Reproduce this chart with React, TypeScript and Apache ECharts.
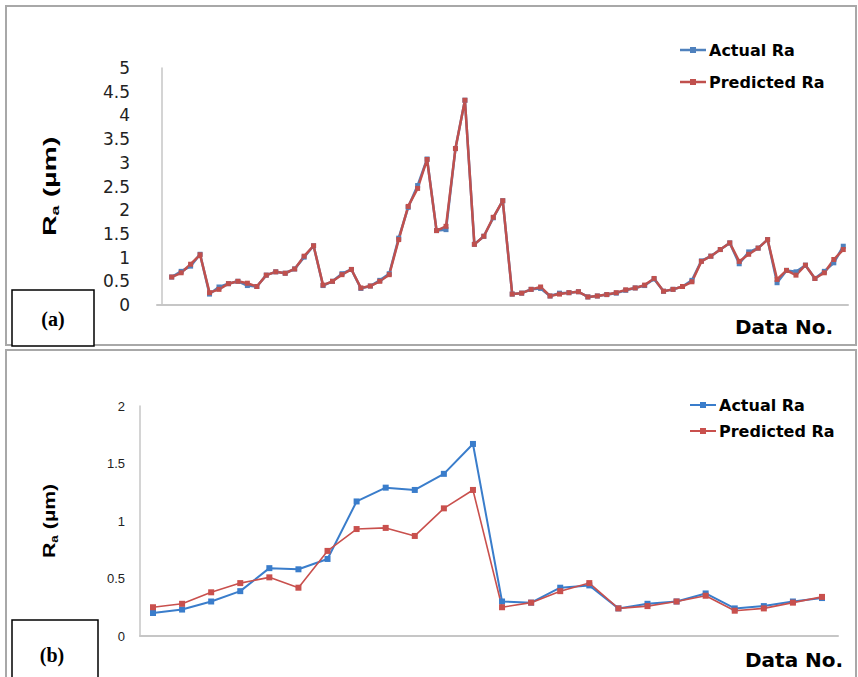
import React, { useEffect, useRef } from "react";
import * as echarts from "echarts";

// Panel (a): 72 data points
const aActual = [
  0.59, 0.71, 0.82, 1.07, 0.23, 0.38, 0.45, 0.5, 0.41, 0.39,
  0.63, 0.7, 0.67, 0.76, 1.01, 1.25, 0.41, 0.5, 0.66, 0.75,
  0.35, 0.4, 0.52, 0.66, 1.41, 2.06, 2.52, 3.08, 1.57, 1.59,
  3.3, 4.32, 1.28, 1.45, 1.84, 2.2, 0.23, 0.25, 0.33, 0.35,
  0.19, 0.25, 0.26, 0.28, 0.17, 0.19, 0.22, 0.25, 0.31, 0.36,
  0.41, 0.55, 0.29, 0.33, 0.39, 0.52, 0.93, 1.03, 1.17, 1.31,
  0.87, 1.12, 1.2, 1.38, 0.47, 0.73, 0.7, 0.84, 0.56, 0.71,
  0.89, 1.24,
];
const aPredicted = [
  0.59, 0.68, 0.86, 1.06, 0.26, 0.33, 0.45, 0.5, 0.46, 0.39,
  0.63, 0.7, 0.67, 0.76, 1.03, 1.25, 0.42, 0.5, 0.64, 0.75,
  0.36, 0.4, 0.5, 0.64, 1.38, 2.08, 2.46, 3.07, 1.57, 1.66,
  3.3, 4.32, 1.28, 1.45, 1.85, 2.2, 0.23, 0.25, 0.33, 0.38,
  0.19, 0.23, 0.26, 0.28, 0.17, 0.19, 0.22, 0.26, 0.32, 0.36,
  0.42, 0.56, 0.29, 0.33, 0.39, 0.49, 0.92, 1.03, 1.17, 1.31,
  0.92, 1.07, 1.2, 1.38, 0.54, 0.73, 0.63, 0.84, 0.56, 0.68,
  0.96, 1.17,
];

// Panel (b): 24 data points
const bActual = [
  0.2, 0.23, 0.3, 0.39, 0.59, 0.58, 0.67, 1.17, 1.29, 1.27, 1.41, 1.67,
  0.3, 0.29, 0.42, 0.44, 0.24, 0.28, 0.3, 0.37, 0.24, 0.26, 0.3, 0.33,
];
const bPredicted = [
  0.25, 0.28, 0.38, 0.46, 0.51, 0.42, 0.74, 0.93, 0.94, 0.87, 1.11, 1.27,
  0.25, 0.29, 0.39, 0.46, 0.24, 0.26, 0.3, 0.35, 0.22, 0.24, 0.29, 0.34,
];

const seriesNames = ["Actual Ra", "Predicted Ra"];
const xTitle = "Data No.";

const BLUE_A = "#4F81BD";
const RED_A = "#C0504D";
const BLUE_B = "#3A7DCB";
const RED_B = "#C9504D";

export default function App() {
  const ref = useRef<HTMLDivElement>(null);

  useEffect(() => {
    document.body.style.margin = "0";
    const chart = echarts.init(ref.current!, null, { renderer: "svg" });
    const pairs = (arr: number[]) => arr.map((v, i) => [i + 1, v]);

    const axisLineStyle = { color: "#c6c6c6", width: 2 };

    const legendItem = (x: number, y: number, color: string, label: string, lw: number) => [
      { type: "line", shape: { x1: x, y1: y, x2: x + 26, y2: y }, style: { stroke: color, lineWidth: lw }, z: 10 },
      { type: "rect", shape: { x: x + 10, y: y - 3, width: 6, height: 6 }, style: { fill: color }, z: 10 },
      {
        type: "text",
        x: x + 29,
        y: y,
        style: {
          text: label,
          fontFamily: "DejaVu Sans",
          fontWeight: "bold",
          fontSize: 16,
          fill: "#000",
          verticalAlign: "middle",
          align: "left",
        },
        z: 10,
      },
    ];

    const yTitle = (x: number, y: number, fs: number, scale: number) => ({
      type: "group",
      x,
      y,
      rotation: Math.PI / 2,
      scaleX: scale,
      children: [
        { type: "text", x: 0, y: 0, style: { text: "R", fontFamily: "Liberation Sans", fontWeight: "bold", fontSize: fs, fill: "#000", verticalAlign: "middle", align: "left" } },
        { type: "text", x: fs * 0.72, y: fs * 0.3, style: { text: "a", fontFamily: "Liberation Sans", fontWeight: "bold", fontSize: fs * 0.62, fill: "#000", verticalAlign: "middle", align: "left" } },
        { type: "text", x: fs * 0.72 + fs * 0.36, y: 0, style: { text: " (µm)", fontFamily: "Liberation Sans", fontWeight: "bold", fontSize: fs, fill: "#000", verticalAlign: "middle", align: "left" } },
      ],
    });

    const option: any = {
      animation: false,
      backgroundColor: "#ffffff",
      grid: [
        { left: 157, top: 68, width: 691, height: 237 },
        { left: 140, top: 406, width: 698, height: 230 },
      ],
      xAxis: [
        {
          gridIndex: 0, type: "value", min: -0.554, max: 72.5,
          axisLine: { show: true, lineStyle: axisLineStyle },
          axisTick: { show: false }, axisLabel: { show: false }, splitLine: { show: false },
        },
        {
          gridIndex: 1, type: "value", min: 0.553, max: 24.55,
          axisLine: { show: true, lineStyle: axisLineStyle },
          axisTick: { show: false }, axisLabel: { show: false }, splitLine: { show: false },
        },
      ],
      yAxis: [
        {
          gridIndex: 0, type: "value", min: 0, max: 5, interval: 0.5,
          axisLine: { show: true, lineStyle: { color: "#c6c6c6", width: 1.5 } },
          axisTick: { show: false }, splitLine: { show: false },
          axisLabel: { fontFamily: "DejaVu Sans", fontSize: 17, color: "#222", margin: 27 },
        },
        {
          gridIndex: 1, type: "value", min: 0, max: 2, interval: 0.5,
          axisLine: { show: true, lineStyle: { color: "#c6c6c6", width: 1.5 } },
          axisTick: { show: false }, splitLine: { show: false },
          axisLabel: { fontFamily: "Liberation Sans", fontSize: 13, color: "#222", margin: 15 },
        },
      ],
      series: [
        {
          name: seriesNames[0], type: "line", xAxisIndex: 0, yAxisIndex: 0, data: pairs(aActual),
          symbol: "rect", symbolSize: 5, lineStyle: { color: BLUE_A, width: 2.5 }, itemStyle: { color: BLUE_A },
        },
        {
          name: seriesNames[1], type: "line", xAxisIndex: 0, yAxisIndex: 0, data: pairs(aPredicted),
          symbol: "rect", symbolSize: 5, lineStyle: { color: RED_A, width: 2.5 }, itemStyle: { color: RED_A },
        },
        {
          name: seriesNames[0], type: "line", xAxisIndex: 1, yAxisIndex: 1, data: pairs(bActual),
          symbol: "rect", symbolSize: 6, lineStyle: { color: BLUE_B, width: 2 }, itemStyle: { color: BLUE_B },
        },
        {
          name: seriesNames[1], type: "line", xAxisIndex: 1, yAxisIndex: 1, data: pairs(bPredicted),
          symbol: "rect", symbolSize: 6, lineStyle: { color: RED_B, width: 1.6 }, itemStyle: { color: RED_B },
        },
      ],
      graphic: [
        { type: "rect", shape: { x: 6, y: 6, width: 850, height: 339 }, style: { fill: "none", stroke: "#a8a8a8", lineWidth: 2 }, z: 1 },
        { type: "rect", shape: { x: 6, y: 350, width: 850, height: 332 }, style: { fill: "none", stroke: "#a8a8a8", lineWidth: 2 }, z: 1 },
        ...legendItem(680, 50, BLUE_A, seriesNames[0], 2.5),
        ...legendItem(680, 82, RED_A, seriesNames[1], 2.5),
        ...legendItem(690, 405, BLUE_B, seriesNames[0], 2),
        ...legendItem(690, 431, RED_B, seriesNames[1], 2),
        { type: "text", x: 735, y: 327, style: { text: xTitle, fontFamily: "DejaVu Sans", fontWeight: "bold", fontSize: 20, fill: "#000", verticalAlign: "middle" }, z: 10 },
        { type: "text", x: 745, y: 660, style: { text: xTitle, fontFamily: "DejaVu Sans", fontWeight: "bold", fontSize: 20, fill: "#000", verticalAlign: "middle" }, z: 10 },
        { type: "rect", shape: { x: 12, y: 290, width: 82, height: 56 }, style: { fill: "#fff", stroke: "#000", lineWidth: 1.5 }, z: 10 },
        { type: "text", x: 53, y: 319, style: { text: "(a)", fontFamily: "Liberation Serif", fontWeight: "bold", fontSize: 20, fill: "#000", align: "center", verticalAlign: "middle" }, z: 11 },
        { type: "rect", shape: { x: 12, y: 620, width: 86, height: 62 }, style: { fill: "#fff", stroke: "#000", lineWidth: 1.5 }, z: 10 },
        { type: "text", x: 52, y: 655, style: { text: "(b)", fontFamily: "Liberation Serif", fontWeight: "bold", fontSize: 20, fill: "#000", align: "center", verticalAlign: "middle" }, z: 11 },
        { ...yTitle(49, 236, 19, 1.5), z: 10 },
        { ...yTitle(49, 558, 17, 1.25), z: 10 },
      ],
    };

    chart.setOption(option);
    return () => chart.dispose();
  }, []);

  return <div ref={ref} style={{ width: 858, height: 677 }} />;
}
